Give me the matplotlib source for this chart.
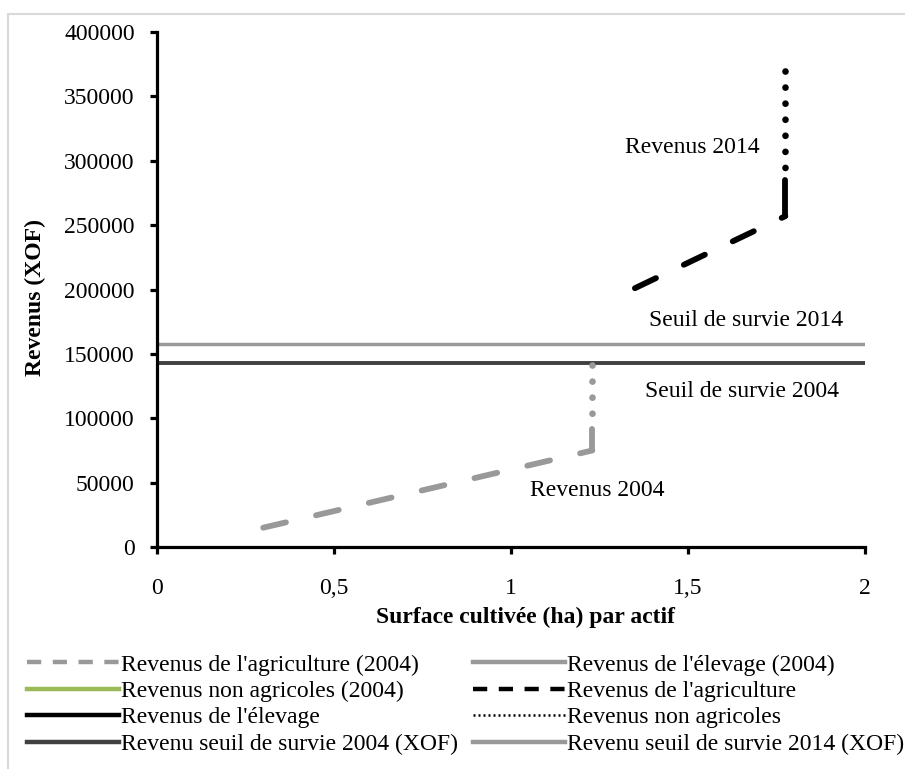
import matplotlib
matplotlib.use("Agg")
import matplotlib.pyplot as plt
from matplotlib.lines import Line2D
from matplotlib.patches import Rectangle

plt.rcParams['font.family'] = ['Liberation Serif', 'DejaVu Serif']
plt.rcParams['font.size'] = 17

# ---- data ----
x_agri_2004 = [0.30, 1.23]
y_agri_2004 = [15000, 75000]
x_elev_2004 = [1.23, 1.23]
y_elev_2004 = [75000, 92000]
x_nonagri_2004 = [1.23, 1.23]
y_nonagri_2004 = [141000, 92000]

x_agri_2014 = [1.35, 1.775]
y_agri_2014 = [201000, 257000]
x_elev_2014 = [1.775, 1.775]
y_elev_2014 = [257000, 285000]
x_nonagri_2014 = [1.775, 1.775]
y_nonagri_2014 = [370000, 285000]

x_seuil = [0, 2]
seuil_2004 = 143000
seuil_2014 = 157500

x_ticks = [0, 0.5, 1, 1.5, 2]
x_ticklabels = ["0", "0,5", "1", "1,5", "2"]
y_ticks = [0, 50000, 100000, 150000, 200000, 250000, 300000, 350000, 400000]

annotations = [
    ("Revenus 2014", 1.511, 310000),
    ("Seuil de survie 2014", 1.664, 176300),
    ("Seuil de survie 2004", 1.653, 120400),
    ("Revenus 2004", 1.243, 43500),
]

legend_labels = [
    "Revenus de l'agriculture (2004)",
    "Revenus non agricoles (2004)",
    "Revenus de l'élevage",
    "Revenu seuil de survie 2004 (XOF)",
    "Revenus de l'élevage (2004)",
    "Revenus de l'agriculture",
    "Revenus non agricoles",
    "Revenu seuil de survie 2014 (XOF)",
]

GRAY = "#999999"
DARK = "#404040"
GREEN = "#9BBB59"

fig = plt.figure(figsize=(9.05, 7.69), dpi=100)
fig.patches.append(Rectangle((8/905, -0.5), 2, 1.5 - 14/769, transform=fig.transFigure,
                             fill=False, edgecolor="#d9d9d9", lw=1.5, zorder=0))
ax = fig.add_axes([157/905, 1 - 547/769, 708/905, 515/769])

dash_lw = 4.2
dashes = (0, (4.0, 5.3))
dot_lw = 4.8
dots = (0, (0.01, 2.4))

ax.plot(x_seuil, [seuil_2014, seuil_2014], color=GRAY, lw=2.5, solid_capstyle='butt', zorder=2)
ax.plot(x_seuil, [seuil_2004, seuil_2004], color=DARK, lw=2.8, solid_capstyle='butt', zorder=2)

ax.plot(x_agri_2004, y_agri_2004, color=GRAY, lw=dash_lw, linestyle=dashes, dash_capstyle='round', zorder=3)
ax.plot(x_elev_2004, y_elev_2004, color=GRAY, lw=dash_lw, solid_capstyle='round', zorder=3)
ax.plot(x_nonagri_2004, y_nonagri_2004, color=GRAY, lw=dot_lw, linestyle=dots, dash_capstyle='round', zorder=3)

ax.plot(x_agri_2014, y_agri_2014, color="black", lw=dash_lw, linestyle=dashes, dash_capstyle='round', zorder=3)
ax.plot(x_elev_2014, y_elev_2014, color="black", lw=dash_lw, solid_capstyle='round', zorder=3)
ax.plot(x_nonagri_2014, y_nonagri_2014, color="black", lw=dot_lw, linestyle=dots, dash_capstyle='round', zorder=3)

for txt, tx, ty in annotations:
    ax.text(tx, ty, txt, ha='center', va='center', fontsize=17)

ax.set_xlim(0, 2)
ax.set_ylim(0, 400000)
ax.set_xticks(x_ticks)
ax.set_xticklabels(x_ticklabels)
ax.set_yticks(y_ticks)
ax.set_yticklabels([str(v) for v in y_ticks])
for s in ['top', 'right']:
    ax.spines[s].set_visible(False)
for s in ['left', 'bottom']:
    ax.spines[s].set_linewidth(2.3)
ax.tick_params(axis='both', direction='out', length=5, width=2.3, labelsize=17)
ax.tick_params(axis='x', pad=17)
ax.tick_params(axis='y', pad=11)

ax.set_xlabel("Surface cultivée (ha) par actif", fontweight='bold', fontsize=17)
ax.xaxis.label.set_va('center')
ax.xaxis.set_label_coords((525 - 157) / 708, (547 - 617) / 515)
ax.set_ylabel("Revenus (XOF)", fontweight='bold', fontsize=17)
ax.yaxis.label.set_va('center')
ax.yaxis.set_label_coords((35 - 157) / 708, (547 - 297) / 515)

handles = [
    Line2D([], [], color=GRAY, lw=3.2, linestyle=(0, (3.2, 2.6)), dash_capstyle='butt'),
    Line2D([], [], color=GREEN, lw=3.2),
    Line2D([], [], color="black", lw=3.2),
    Line2D([], [], color=DARK, lw=3.2),
    Line2D([], [], color=GRAY, lw=3.2),
    Line2D([], [], color="black", lw=3.2, linestyle=(0, (3.2, 2.6)), dash_capstyle='butt'),
    Line2D([], [], color="black", lw=1.8, linestyle=(0, (0.8, 1.2))),
    Line2D([], [], color=GRAY, lw=3.2),
]
fig.legend(handles, legend_labels, ncol=2, loc='upper left',
           bbox_to_anchor=(27/905, 1 - 654/769), frameon=False, fontsize=17,
           handlelength=3.9, handletextpad=0.1, columnspacing=0.6,
           labelspacing=0.21, borderpad=0, borderaxespad=0)

fig.savefig("out.png", dpi=100)
